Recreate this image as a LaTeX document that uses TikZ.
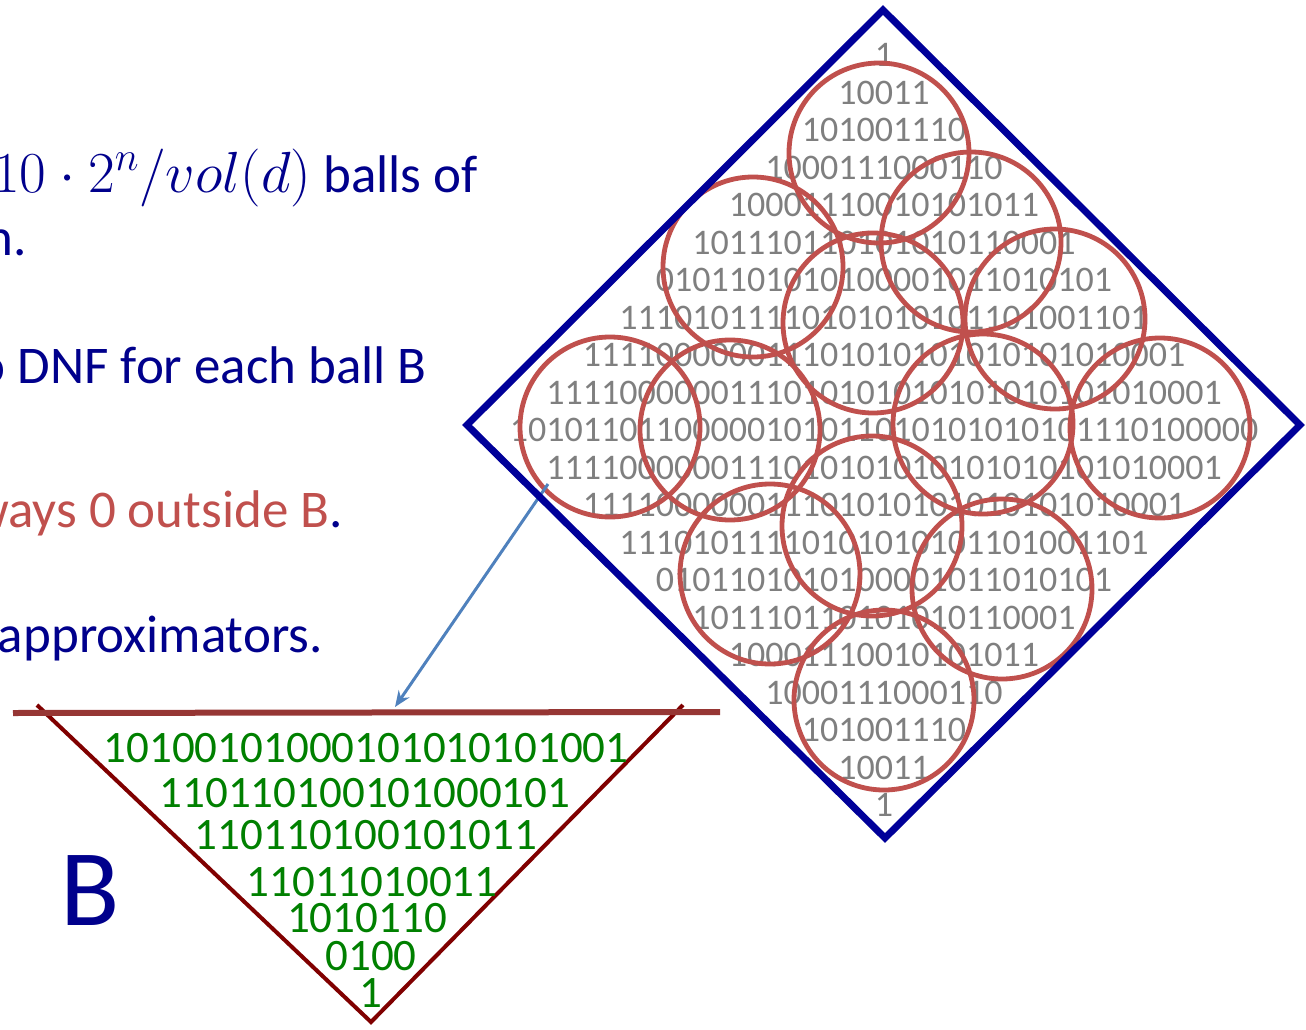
\RequirePackage{fix-cm}
\documentclass[tikz,border=0pt]{standalone}
\usepackage{fontspec}
\setmainfont{Carlito}
\usetikzlibrary{arrows.meta}
\definecolor{navyB}{RGB}{0,0,140}
\definecolor{diamB}{RGB}{0,0,153}
\definecolor{ballR}{RGB}{192,80,77}
\definecolor{digG}{RGB}{127,127,127}
\definecolor{digGreen}{RGB}{0,128,0}
\definecolor{triR}{RGB}{128,0,0}
\definecolor{lineR}{RGB}{150,54,52}
\definecolor{arrB}{RGB}{79,129,189}
\begin{document}
\begin{tikzpicture}[x=1pt,y=-1pt,
  graydig/.style={text=digG,font=\fontsize{36}{36}\selectfont,inner sep=0pt},
  greendig/.style={text=digGreen,font=\fontsize{45}{45}\selectfont,inner sep=0pt},
  slidetext/.style={font=\fontsize{53}{60}\selectfont,inner sep=0pt,anchor=base east},
  ball/.style={draw=ballR,line width=4.8pt},
  ]
\useasboundingbox (0,0) rectangle (1306,1030);
\clip (0,0) rectangle (1306,1030);

% slide text (cut at the left edge)
\node[slidetext,text=navyB] (t1) at (478,192) {{\fontsize{58}{60}\selectfont$10\cdot 2^{n}/vol(d)$} balls of};
\node[slidetext,text=navyB] (t2) at (27,255) {n.};
\node[slidetext,text=navyB] (t3) at (427,383) {to DNF for each ball B};
\node[slidetext,text=ballR] (t4) at (343,527) {ways 0 outside B\textcolor{navyB}{.}};
\node[slidetext,text=navyB] (t5) at (323,652) {approximators.};

% big B
\node[text=navyB,font=\fontsize{109}{109}\selectfont,inner sep=0pt,anchor=base west] (bigB) at (60,925) {B};

% grey digits in the diamond
\foreach \s [count=\k from 0] in {1,10011,101001110,1000111000110,10001110010101011,101110110101010110001,0101101010100001011010101,11101011110101010101101001101,111100000011101010101010101010001,1111000000111010101010101010101010001,10101101100000101011010101010101110100000,1111000000111010101010101010101010001,111100000011101010101010101010001,11101011110101010101101001101,0101101010100001011010101,101110110101010110001,10001110010101011,1000111000110,101001110,10011,1}
  \node[graydig] (r\k) at (884,{55+37.5*\k}) {\s};

% balls
\foreach \cx/\cy [count=\i] in {879/153,971/242,753/267,873/323,1055/319,610/427,730/430,983/424,1160/428,770/574,872/526,1002/589,884/700}
  \draw[ball] (\cx,\cy) circle[radius=90];

% arrow from the diamond to the ball B
\coordinate (as) at (548,484);
\coordinate (ae) at (395,707);
\draw[arrB,line width=3pt,-{Stealth[length=16pt,width=13pt]}] (as) -- (ae);

% diamond
\coordinate (dt) at (883,10);
\coordinate (dr) at (1300,425);
\coordinate (db) at (885,838);
\coordinate (dl) at (467,425);
\draw[diamB,line width=7pt,line join=miter] (dt) -- (dr) -- (db) -- (dl) -- cycle;

% triangle (ball B)
\coordinate (tl) at (37,705);
\coordinate (tb) at (371,1022);
\coordinate (tr) at (683,705);
\coordinate (hl) at (13,713);
\coordinate (hr) at (720,712);
\draw[triR,line width=4pt] (tl) -- (tb) -- (tr);
\draw[lineR,line width=6pt] (hl) -- (hr);

% green digits
\node[greendig] (g1) at (366,748) {10100101000101010101001};
\node[greendig] (g2) at (365,793) {110110100101000101};
\node[greendig] (g3) at (366,835) {110110100101011};
\node[greendig] (g4) at (372,882) {11011010011};
\node[greendig] (g5) at (367,918) {1010110};
\node[greendig] (g6) at (371,956) {0100};
\node[greendig] (g7) at (371,993) {1};
\end{tikzpicture}
\end{document}
